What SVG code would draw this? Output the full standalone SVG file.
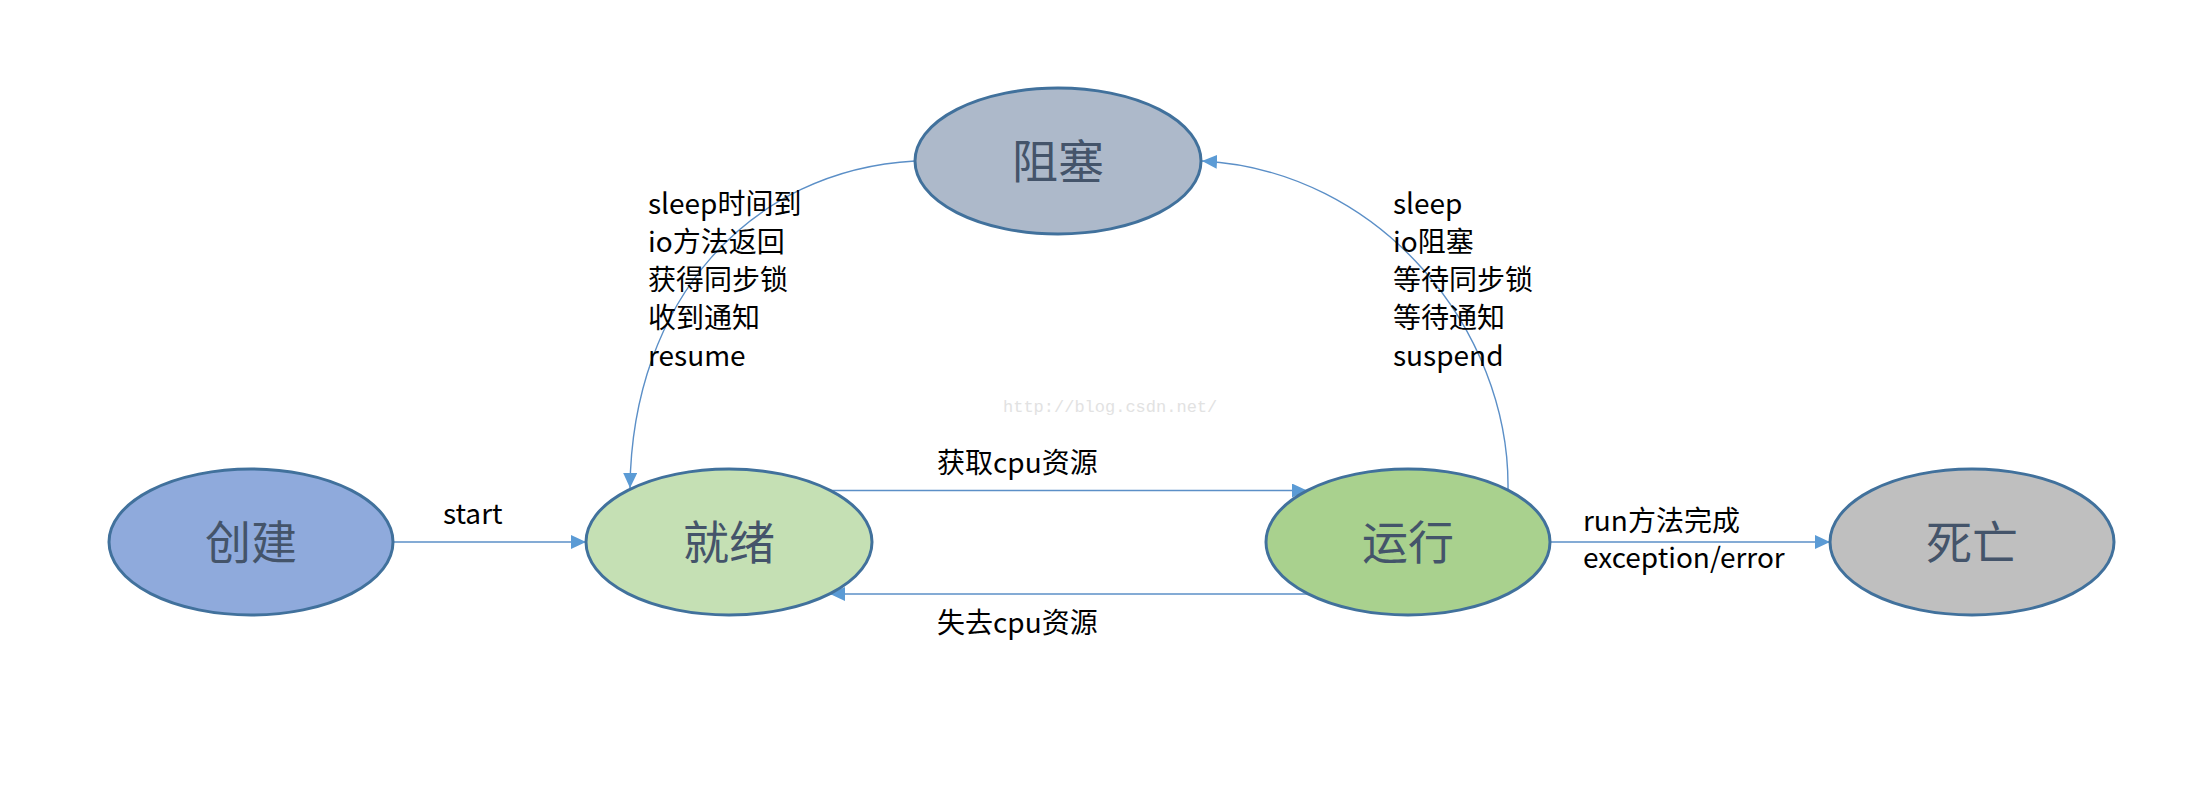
<svg xmlns="http://www.w3.org/2000/svg" width="2204" height="790" viewBox="0 0 2204 790">
<style>
.node{stroke:#41719c;stroke-width:3}
.ntext{font-family:"Noto Sans CJK SC","Noto Sans",sans-serif;font-size:46px;fill:#44546a;text-anchor:middle}
.edge{fill:none;stroke:#5b8fc7;stroke-width:1.4}
.lbl{font-family:"Noto Sans CJK SC","Noto Sans",sans-serif;font-size:28px;fill:#000}
.wm{font-family:"Liberation Mono",monospace;font-size:17px;fill:#e2e2e2}
</style>
<defs>
<marker id="arr" markerUnits="userSpaceOnUse" markerWidth="16" markerHeight="14" refX="15" refY="7" orient="auto">
<path d="M0,0 L15,7 L0,14 Z" fill="#5b9bd5"/>
</marker>
</defs>
<rect width="2204" height="790" fill="#fff"/>
<text class="wm" x="1003" y="412">http://blog.csdn.net/</text>
<g id="connectors">
<line class="edge" x1="394" y1="542" x2="586" y2="542" marker-end="url(#arr)"/>
<line class="edge" x1="831" y1="490.5" x2="1307" y2="490.5" marker-end="url(#arr)"/>
<line class="edge" x1="1308" y1="594" x2="830" y2="594" marker-end="url(#arr)"/>
<line class="edge" x1="1550" y1="542" x2="1830" y2="542" marker-end="url(#arr)"/>
<path class="edge" d="M915,161 C750,170 632,300 630,488" marker-end="url(#arr)"/>
<path class="edge" d="M1508,489 C1510,330 1380,170 1202,161" marker-end="url(#arr)"/>
<text class="lbl" x="443" y="524">start</text>
<text class="lbl" x="937" y="473">获取cpu资源</text>
<text class="lbl" x="937" y="633">失去cpu资源</text>
<text class="lbl" x="1583" y="531">run方法完成</text>
<text class="lbl" x="1583" y="568">exception/error</text>
<text class="lbl" x="648" y="214">sleep时间到</text>
<text class="lbl" x="648" y="252">io方法返回</text>
<text class="lbl" x="648" y="290">获得同步锁</text>
<text class="lbl" x="648" y="328">收到通知</text>
<text class="lbl" x="648" y="366">resume</text>
<text class="lbl" x="1393" y="214">sleep</text>
<text class="lbl" x="1393" y="252">io阻塞</text>
<text class="lbl" x="1393" y="290">等待同步锁</text>
<text class="lbl" x="1393" y="328">等待通知</text>
<text class="lbl" x="1393" y="366">suspend</text>
</g>
<g id="node-create">
<ellipse class="node" cx="251" cy="542" rx="142" ry="73" fill="#8faadc"/>
<text class="ntext" x="251" y="559">创建</text>
</g>
<g id="node-ready">
<ellipse class="node" cx="729" cy="542" rx="143" ry="73" fill="#c5e0b4"/>
<text class="ntext" x="729" y="559">就绪</text>
</g>
<g id="node-running">
<ellipse class="node" cx="1408" cy="542" rx="142" ry="73" fill="#a9d18e"/>
<text class="ntext" x="1408" y="559">运行</text>
</g>
<g id="node-dead">
<ellipse class="node" cx="1972" cy="542" rx="142" ry="73" fill="#bfbfbf"/>
<text class="ntext" x="1972" y="559">死亡</text>
</g>
<g id="node-blocked">
<ellipse class="node" cx="1058" cy="161" rx="143" ry="73" fill="#adb9ca"/>
<text class="ntext" x="1058" y="178">阻塞</text>
</g>
</svg>
